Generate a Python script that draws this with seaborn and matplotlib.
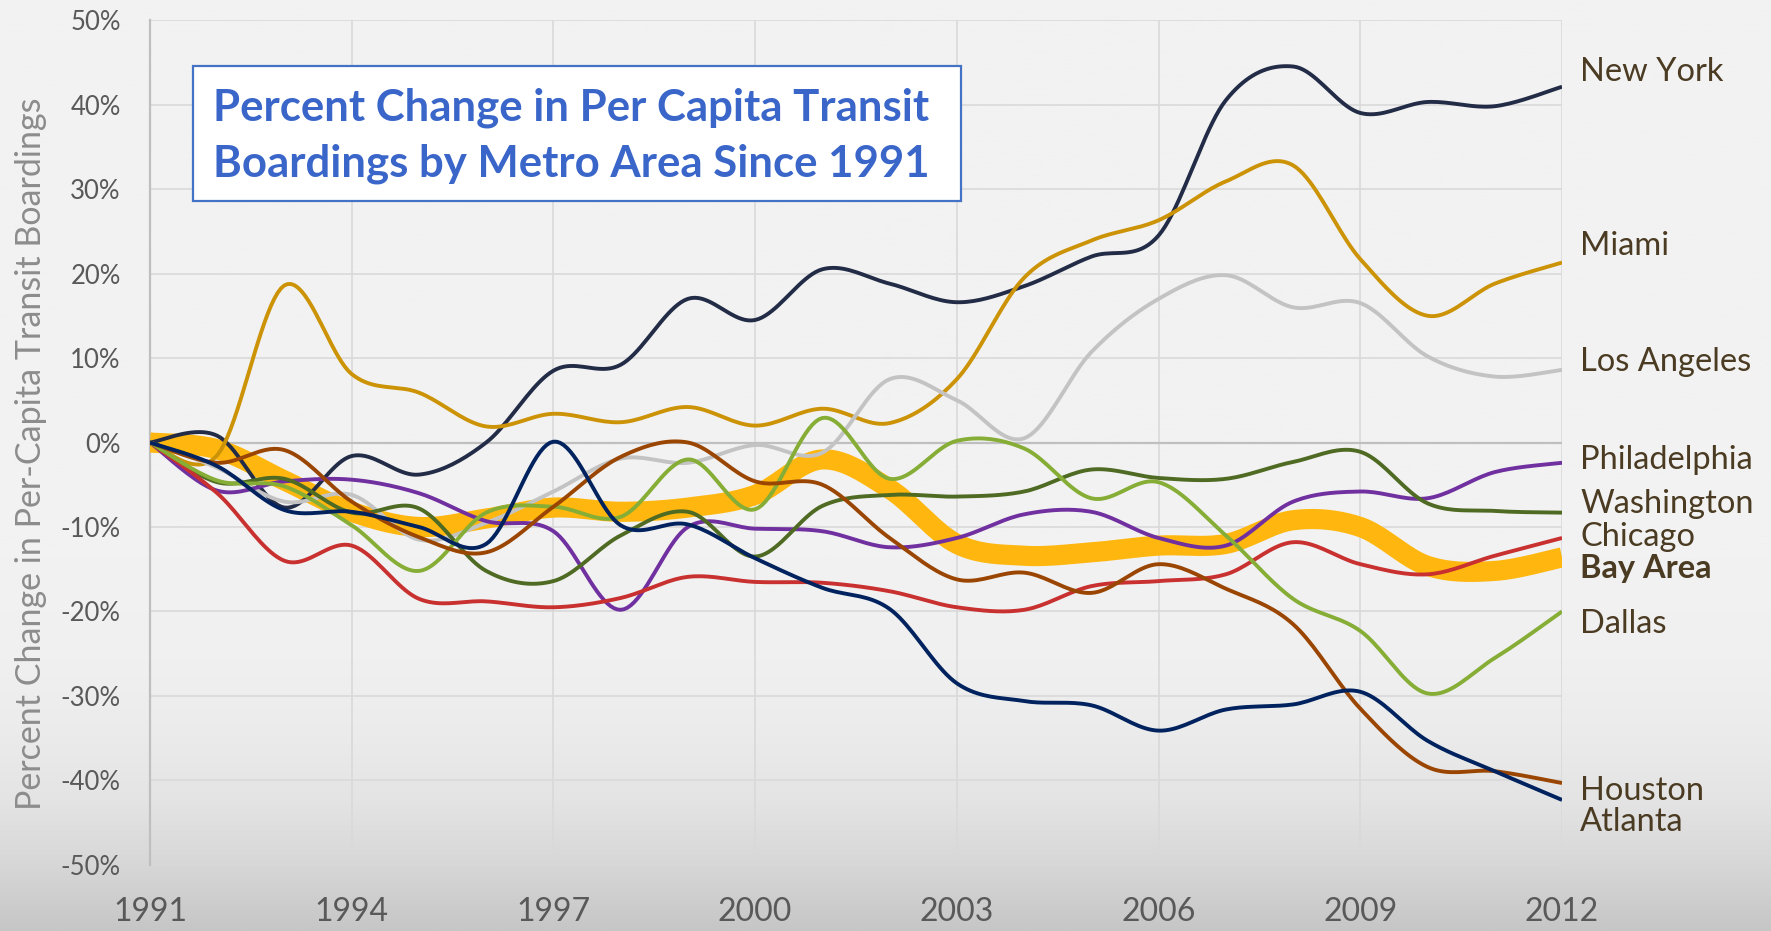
import numpy as np
import pandas as pd
import seaborn as sns
import matplotlib.pyplot as plt
from matplotlib.patches import Rectangle

# Percent change in per-capita transit boardings since 1991
years = list(range(1991, 2013))

new_york = [0, 0.8, -7.7, -1.6, -3.8, 0.0, 8.5, 9.2, 17.0, 14.5, 20.5, 18.8, 16.6, 18.5, 22.0, 24.5, 40.5, 44.5, 39.0, 40.3, 39.8, 42.1]
miami = [0, -1.5, 18.6, 8.1, 5.9, 1.9, 3.4, 2.4, 4.2, 2.0, 4.0, 2.3, 7.5, 19.5, 23.9, 26.3, 30.9, 32.8, 21.7, 15.0, 18.8, 21.3]
los_angeles = [0, -3.0, -7.0, -6.2, -11.5, -9.5, -5.8, -1.9, -2.4, -0.3, -1.2, 7.5, 5.0, 0.5, 10.7, 17.0, 19.8, 16.0, 16.5, 10.2, 7.8, 8.6]
philadelphia = [0, -5.7, -4.6, -4.4, -6.0, -9.3, -10.5, -19.8, -10.0, -10.2, -10.5, -12.4, -11.3, -8.5, -8.2, -11.3, -12.2, -7.0, -5.8, -6.6, -3.5, -2.4]
washington = [0, -4.7, -4.3, -8.3, -7.8, -15.2, -16.4, -11.0, -8.2, -13.5, -7.5, -6.2, -6.4, -5.8, -3.2, -4.2, -4.3, -2.3, -1.1, -7.2, -8.1, -8.3]
chicago = [0, -6.0, -14.0, -12.2, -18.5, -18.8, -19.5, -18.4, -15.9, -16.5, -16.6, -17.6, -19.5, -19.8, -17.0, -16.4, -15.6, -11.8, -14.4, -15.6, -13.4, -11.3]
bay_area = [0, -0.8, -4.5, -8.2, -10.0, -9.0, -7.7, -8.2, -7.7, -6.2, -2.0, -5.5, -12.0, -13.4, -13.0, -12.2, -12.0, -9.2, -10.0, -14.6, -15.2, -13.6]
dallas = [0, -4.5, -5.2, -9.8, -15.2, -8.3, -7.6, -8.8, -2.0, -7.9, 2.9, -4.3, 0.2, -0.7, -6.6, -4.7, -11.0, -18.5, -22.3, -29.7, -25.5, -20.0]
houston = [0, -2.4, -0.9, -7.0, -11.2, -13.0, -7.6, -1.7, 0.0, -4.6, -5.0, -11.3, -16.2, -15.4, -17.8, -14.4, -17.3, -21.5, -31.5, -38.4, -38.9, -40.3]
atlanta = [0, -2.8, -8.0, -8.2, -10.0, -12.0, 0.1, -9.8, -9.7, -13.7, -17.2, -19.7, -28.5, -30.6, -31.1, -34.1, -31.6, -31.0, -29.5, -35.3, -38.9, -42.3]

metros = ["New York", "Miami", "Los Angeles", "Philadelphia", "Washington",
          "Chicago", "Bay Area", "Dallas", "Houston", "Atlanta"]
series = [new_york, miami, los_angeles, philadelphia, washington,
          chicago, bay_area, dallas, houston, atlanta]

colors = {
    "New York": "#232c47",
    "Miami": "#cc9307",
    "Los Angeles": "#c3c3c3",
    "Philadelphia": "#7030a0",
    "Washington": "#4f6a22",
    "Chicago": "#c8312f",
    "Bay Area": "#ffb70f",
    "Dallas": "#86ad35",
    "Houston": "#9a4602",
    "Atlanta": "#00225e",
}
widths = {m: 2.8 for m in metros}
widths["Bay Area"] = 14.5

# label baselines at right side (percent units)
label_y = [42.8, 22.2, 8.5, -3.1, -8.3, -12.2, -16.0, -22.5, -42.3, -46.0]


def smooth(xs, ys, n=20):
    # Excel-like smoothed line: bezier segments, control points at 1/6 of neighbour span
    xs = np.asarray(xs, float)
    ys = np.asarray(ys, float)
    px = np.concatenate([[xs[0]], xs, [xs[-1]]])
    py = np.concatenate([[ys[0]], ys, [ys[-1]]])
    t = np.linspace(0, 1, n, endpoint=False)
    ox, oy = [], []
    for i in range(len(xs) - 1):
        x1, x2 = px[i + 1], px[i + 2]
        y1, y2 = py[i + 1], py[i + 2]
        cx1 = x1 + (x2 - px[i]) / 6
        cy1 = y1 + (y2 - py[i]) / 6
        cx2 = x2 - (px[i + 3] - x1) / 6
        cy2 = y2 - (py[i + 3] - y1) / 6
        b0, b1, b2, b3 = (1 - t) ** 3, 3 * t * (1 - t) ** 2, 3 * t ** 2 * (1 - t), t ** 3
        ox.append(b0 * x1 + b1 * cx1 + b2 * cx2 + b3 * x2)
        oy.append(b0 * y1 + b1 * cy1 + b2 * cy2 + b3 * y2)
    ox.append([xs[-1]])
    oy.append([ys[-1]])
    return np.concatenate(ox), np.concatenate(oy)


frames = []
for m, vals in zip(metros, series):
    sx, sy = smooth(years, vals)
    frames.append(pd.DataFrame({"year": sx, "pct": sy, "metro": m}))
df = pd.concat(frames, ignore_index=True)

sns.set_theme(style="white")
plt.rcParams["font.family"] = ["Lato", "DejaVu Sans"]

fig = plt.figure(figsize=(17.71, 9.31), dpi=100)

# background gradient (light grey fading to darker grey at the bottom)
bg = fig.add_axes([0, 0, 1, 1], zorder=-10)
fr = np.linspace(0, 1, 400)
shade = np.interp(fr, [0, 0.6, 0.71, 0.78, 0.86, 0.93, 1.0],
                  [242, 242, 240, 236, 228, 215, 198]) / 255
bg.imshow(np.repeat(shade[:, None, None], 3, axis=2), aspect="auto",
          extent=[0, 1, 0, 1], origin="upper")
bg.set_axis_off()

ax = fig.add_axes([0.0847, 0.0709, 0.882 - 0.0847, 0.9785 - 0.0709])
ax.set_facecolor("none")

order = ["Bay Area"] + [m for m in metros if m != "Bay Area"]
sns.lineplot(data=df, x="year", y="pct", hue="metro", hue_order=order,
             palette=colors, size="metro", sizes=widths, size_order=order,
             estimator=None, sort=False, legend=False, ax=ax, zorder=3)
for ln in ax.lines:
    ln.set_solid_capstyle("butt")

ax.set_xlim(1991, 2012)
ax.set_ylim(-50, 50)
ax.set_xticks(range(1991, 2013, 3))
ax.set_yticks(range(-50, 51, 10))
ax.set_yticklabels([f"{v}%" for v in range(-50, 51, 10)])
ax.grid(True, color="#d9d9d9", linewidth=1.2, zorder=0)
ax.axhline(0, color="#bfbfbf", linewidth=1.6, zorder=1)
for s in ["top", "right", "bottom"]:
    ax.spines[s].set_visible(False)
ax.spines["left"].set_color("#bfbfbf")
ax.spines["left"].set_linewidth(1.6)
ax.tick_params(axis="y", length=0, pad=21, labelsize=18.5, labelcolor="#595959")
ax.tick_params(axis="x", length=0, pad=23, labelsize=23, labelcolor="#595959")
ax.set_xlabel("")
ax.set_ylabel("Percent Change in Per-Capita Transit Boardings",
              fontsize=24.5, color="#8c8c8c")
ax.yaxis.set_label_coords(-0.073, 0.487)

for m, yv in zip(metros, label_y):
    ax.text(2012.27, yv, m, fontsize=23.5, color="#4a3b22", va="baseline",
            ha="left", fontweight="bold" if m == "Bay Area" else "normal",
            clip_on=False)

# title box
fig.patches.append(Rectangle((193 / 1771, 1 - 201 / 931), 768 / 1771, 135 / 931,
                             transform=fig.transFigure, facecolor="white",
                             edgecolor="#4472c4", linewidth=1.6, zorder=5))
title_kw = dict(fontsize=31.5, fontweight="bold", color="#3a66c9",
                va="baseline", ha="left", zorder=6)
fig.text(213 / 1771, 1 - 120 / 931, "Percent Change in Per Capita Transit", **title_kw)
fig.text(213 / 1771, 1 - 177 / 931, "Boardings by Metro Area Since 1991", **title_kw)

fig.savefig("out.png", dpi=100)
